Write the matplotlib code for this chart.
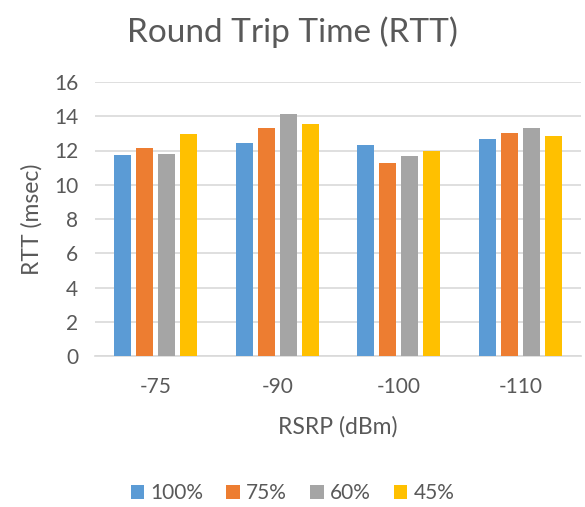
import matplotlib.pyplot as plt
import numpy as np

plt.rcParams['font.family'] = ['Lato', 'DejaVu Sans']

categories = ['-75', '-90', '-100', '-110']
series_names = ['100%', '75%', '60%', '45%']
rtt_100 = [11.71, 12.41, 12.33, 12.66]
rtt_75 = [12.12, 13.34, 11.26, 13.03]
rtt_60 = [11.78, 14.13, 11.69, 13.31]
rtt_45 = [12.95, 13.52, 11.98, 12.83]

colors = ['#5b9bd5', '#ed7d31', '#a5a5a5', '#ffc000']
txt = '#595959'

fig = plt.figure(figsize=(5.85, 5.07), dpi=100)
ax = fig.add_axes([95 / 585, 1 - 356 / 507, 486 / 585, 274 / 507])

x = np.arange(len(categories))
width = 0.14
step = 0.18
for i, (vals, name) in enumerate(zip([rtt_100, rtt_75, rtt_60, rtt_45], series_names)):
    ax.bar(x + (i - 1.5) * step, vals, width, color=colors[i], label=name, zorder=3)

ax.set_xlim(-0.5, 3.5)
ax.set_ylim(0, 16)
ax.set_yticks(range(0, 17, 2))
ax.set_xticks(x)
ax.set_xticklabels(categories)
ax.yaxis.grid(True, color='#d9d9d9', linewidth=1.2, zorder=0)
for s in ['top', 'right', 'left']:
    ax.spines[s].set_visible(False)
ax.spines['bottom'].set_color('#d9d9d9')
ax.spines['bottom'].set_linewidth(1.2)
ax.tick_params(axis='both', length=0, colors=txt, labelsize=15)
ax.tick_params(axis='y', pad=12)
ax.tick_params(axis='x', pad=15)

ax.set_ylabel('RTT (msec)', color=txt, fontsize=16.5, labelpad=8)
ax.set_xlabel('RSRP (dBm)', color=txt, fontsize=16.5, labelpad=14)
fig.text(0.5, 1 - 32 / 507, 'Round Trip Time (RTT)', ha='center', va='center',
         color=txt, fontsize=24)

leg = fig.legend(loc='center', bbox_to_anchor=(0.5, 1 - 493 / 507), ncol=4,
                 frameon=False, fontsize=15, handlelength=0.65, handleheight=0.65,
                 columnspacing=1.1, handletextpad=0.3)
for t in leg.get_texts():
    t.set_color(txt)

fig.savefig('out.png', dpi=100)
